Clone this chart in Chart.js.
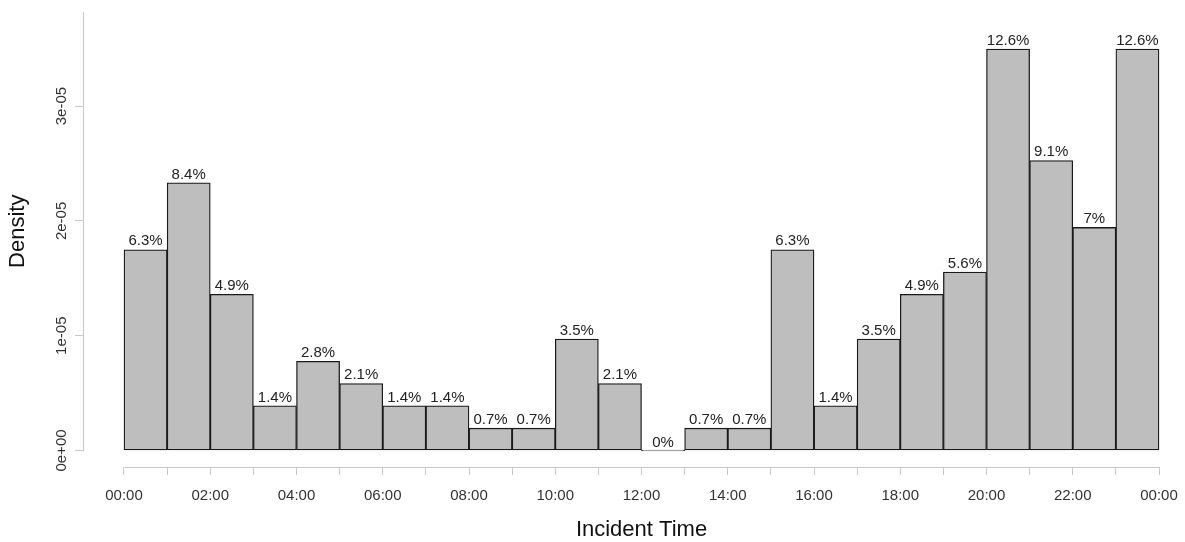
<!DOCTYPE html>
<html>
<head>
<meta charset="utf-8">
<script src="https://cdn.jsdelivr.net/npm/chart.js@4"></script>
<style>
  html, body { margin: 0; padding: 0; background: #ffffff; }
  #wrap { width: 1185px; height: 542px; position: relative; }
</style>
</head>
<body>
<div id="wrap"><canvas id="c"></canvas></div>
<script>
// ---- data ----
const binStartHours = [0,1,2,3,4,5,6,7,8,9,10,11,12,13,14,15,16,17,18,19,20,21,22,23];
const densities = [1.748e-5, 2.331e-5, 1.360e-5, 3.885e-6, 7.770e-6, 5.828e-6, 3.885e-6, 3.885e-6,
                   1.943e-6, 1.943e-6, 9.713e-6, 5.828e-6, 0, 1.943e-6, 1.943e-6, 1.748e-5,
                   3.885e-6, 9.713e-6, 1.360e-5, 1.554e-5, 3.497e-5, 2.525e-5, 1.943e-5, 3.497e-5];
const percentLabels = ["6.3%","8.4%","4.9%","1.4%","2.8%","2.1%","1.4%","1.4%",
                       "0.7%","0.7%","3.5%","2.1%","0%","0.7%","0.7%","6.3%",
                       "1.4%","3.5%","4.9%","5.6%","12.6%","9.1%","7%","12.6%"];
const xTickHours = [0,1,2,3,4,5,6,7,8,9,10,11,12,13,14,15,16,17,18,19,20,21,22,23,24];
const xTickLabels = ["00:00","02:00","04:00","06:00","08:00","10:00","12:00",
                     "14:00","16:00","18:00","20:00","22:00","00:00"];
const yTickValues = [0, 1e-5, 2e-5, 3e-5];
const yTickLabels = ["0e+00","1e-05","2e-05","3e-05"];
const xTitle = 'Incident Time';
const yTitle = 'Density';

const FONT = "'Liberation Sans', Arial, Helvetica, sans-serif";
const AXIS_GRAY = '#c8c8c8';

const barPoints = binStartHours.map((h, i) => ({ x: h + 0.5, y: densities[i] }));

const axisLinesPlugin = {
  id: 'rAxes',
  afterDraw(chart) {
    const { ctx, chartArea, scales } = chart;
    const xs = scales.x, ys = scales.y;
    const x0 = xs.getPixelForValue(xTickHours[0]);
    const x1 = xs.getPixelForValue(xTickHours[xTickHours.length - 1]);
    const y0 = ys.getPixelForValue(0);
    ctx.save();
    ctx.strokeStyle = AXIS_GRAY;
    ctx.lineWidth = 1;
    const yb = Math.round(chartArea.bottom) + 0.5;
    ctx.beginPath();
    ctx.moveTo(Math.round(x0) + 0.5, yb);
    ctx.lineTo(Math.round(x1) + 0.5, yb);
    ctx.stroke();
    const xl = Math.round(chartArea.left) + 0.5;
    ctx.beginPath();
    ctx.moveTo(xl, Math.round(y0) + 0.5);
    ctx.lineTo(xl, Math.round(chartArea.top));
    ctx.stroke();
    // axis titles, centred on the plot region like R does
    ctx.fillStyle = '#111111';
    ctx.font = '22px ' + FONT;
    ctx.textAlign = 'center';
    ctx.textBaseline = 'middle';
    ctx.fillText(xTitle, (x0 + x1) / 2, 530);
    ctx.translate(18, (chartArea.top + y0) / 2);
    ctx.rotate(-Math.PI / 2);
    ctx.fillText(yTitle, 0, 0);
    ctx.restore();
  }
};

const barLabelPlugin = {
  id: 'barLabels',
  afterDatasetsDraw(chart) {
    const { ctx } = chart;
    const meta = chart.getDatasetMeta(0);
    ctx.save();
    ctx.fillStyle = '#222222';
    ctx.font = '15px ' + FONT;
    ctx.textAlign = 'center';
    ctx.textBaseline = 'bottom';
    meta.data.forEach((el, i) => {
      ctx.fillText(percentLabels[i], el.x, el.y - 1);
    });
    ctx.restore();
  }
};

new Chart(document.getElementById('c'), {
  type: 'bar',
  data: {
    datasets: [{
      data: barPoints,
      backgroundColor: '#bebebe',
      borderColor: '#1a1a1a',
      borderWidth: 1.3,
      barPercentage: 1.0,
      categoryPercentage: 1.0,
      borderSkipped: false,
      minBarLength: 1
    }]
  },
  options: {
    responsive: true,
    maintainAspectRatio: false,
    animation: false,
    devicePixelRatio: 1,
    layout: { padding: { left: 0, right: 20, top: 12, bottom: 0 } },
    plugins: { legend: { display: false }, tooltip: { enabled: false } },
    scales: {
      x: {
        type: 'linear',
        position: 'bottom',
        min: -0.9507,
        max: 24.139,
        offset: false,
        afterBuildTicks: (s) => { s.ticks = xTickHours.map(v => ({ value: v })); },
        afterFit: (s) => { s.height = 75; s.paddingLeft = 0; s.paddingRight = 0; },
        grid: { display: true, drawOnChartArea: false, drawTicks: true, tickLength: 8, color: AXIS_GRAY, lineWidth: 1, offset: false },
        border: { display: false },
        ticks: {
          autoSkip: false, maxRotation: 0, minRotation: 0, padding: 12,
          color: '#333333', font: { family: FONT, size: 15 },
          callback: (v) => (v % 2 === 0 ? xTickLabels[v / 2] : '')
        },
        title: { display: false }
      },
      y: {
        type: 'linear',
        position: 'left',
        min: -1.437e-6,
        max: 3.8197e-5,
        afterBuildTicks: (s) => { s.ticks = yTickValues.map(v => ({ value: v })); },
        afterFit: (s) => { s.width = 83; s.paddingTop = 0; s.paddingBottom = 0; },
        grid: { display: true, drawOnChartArea: false, drawTicks: true, tickLength: 8, color: AXIS_GRAY, lineWidth: 1 },
        border: { display: false },
        ticks: {
          minRotation: 90, maxRotation: 90, crossAlign: 'center', padding: -8,
          color: '#333333', font: { family: FONT, size: 15 },
          callback: (v) => { const i = yTickValues.indexOf(v); return i >= 0 ? yTickLabels[i] : ''; }
        },
        title: { display: false }
      }
    }
  },
  plugins: [axisLinesPlugin, barLabelPlugin]
});
</script>
</body>
</html>
